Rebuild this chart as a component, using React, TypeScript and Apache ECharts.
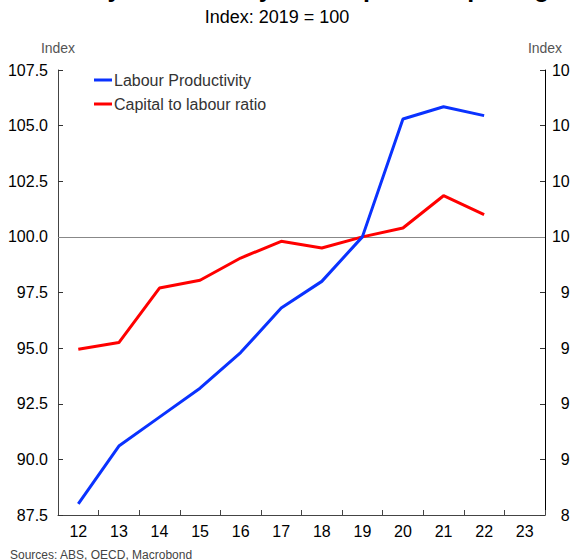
import React, { useEffect, useRef } from "react";
import * as echarts from "echarts";

const years = ["12", "13", "14", "15", "16", "17", "18", "19", "20", "21", "22", "23"];
const labourProductivity = [88.0, 90.6, 91.9, 93.2, 94.8, 96.8, 98.0, 100.0, 105.3, 105.85, 105.45, null];
const capitalToLabour = [94.95, 95.25, 97.7, 98.05, 99.05, 99.8, 99.5, 100.0, 100.4, 101.85, 101.0, null];
const yMin = 87.5;
const yMax = 107.5;
const yStep = 2.5;

export default function App() {
  const ref = useRef<HTMLDivElement>(null);
  useEffect(() => {
    if (!ref.current) return;
    const chart = echarts.init(ref.current, undefined, { renderer: "svg" });
    const font = "Arial, 'Liberation Sans', sans-serif";
    const yAxisBase = {
      type: "value",
      min: yMin,
      max: yMax,
      interval: yStep,
      splitLine: { show: false },
      axisTick: { show: true, inside: true, length: 5, lineStyle: { color: "#333" } },
      name: "Index",
      nameLocation: "end",
      nameGap: 22,
      nameTextStyle: { color: "#555", fontSize: 14, fontFamily: font, align: "center", verticalAlign: "middle" },
    };
    chart.setOption({
      animation: false,
      textStyle: { fontFamily: font },
      graphic: [
        {
          type: "text",
          x: 279,
          y: 0,
          style: {
            text: "Economy Productivity and Capital Deepening",
            font: "bold 25px Arial, 'Liberation Sans', sans-serif",
            fill: "#000",
            textAlign: "center",
            textVerticalAlign: "bottom",
          },
        },
        {
          type: "text",
          x: 277,
          y: 17,
          style: {
            text: "Index: 2019 = 100",
            font: "18px Arial, 'Liberation Sans', sans-serif",
            fill: "#000",
            textAlign: "center",
            textVerticalAlign: "middle",
          },
        },
        {
          type: "text",
          x: 10,
          y: 555,
          style: {
            text: "Sources: ABS, OECD, Macrobond",
            font: "12px Arial, 'Liberation Sans', sans-serif",
            fill: "#444",
            textAlign: "left",
            textVerticalAlign: "middle",
          },
        },
      ],
      legend: {
        orient: "vertical",
        left: 89,
        top: 67,
        itemGap: 8,
        itemWidth: 18,
        itemHeight: 3,
        icon: "rect",
        textStyle: { fontSize: 16, color: "#333", fontFamily: font, padding: [0, 0, 0, -3] },
        data: ["Labour Productivity", "Capital to labour ratio"],
      },
      grid: { left: 58, right: 25, top: 70, bottom: 45, containLabel: false, outerBoundsMode: "none" },
      xAxis: {
        type: "category",
        data: years,
        boundaryGap: true,
        axisLine: { lineStyle: { color: "#444", width: 1 } },
        axisTick: { show: true, inside: true, length: 5, lineStyle: { color: "#444" } },
        axisLabel: { color: "#000", fontSize: 16, margin: 8, fontFamily: font },
      },
      yAxis: [
        {
          ...yAxisBase,
          position: "left",
          axisLine: { show: true, lineStyle: { color: "#444" } },
          axisLabel: { color: "#000", fontSize: 16, margin: 10, fontFamily: font, formatter: (v: number) => v.toFixed(1) },
        },
        {
          ...yAxisBase,
          position: "right",
          axisLine: { show: true, lineStyle: { color: "#000" } },
          axisLabel: { color: "#000", fontSize: 16, margin: 47, align: "right", fontFamily: font, formatter: (v: number) => v.toFixed(1) },
        },
      ],
      series: [
        {
          name: "Labour Productivity",
          type: "line",
          data: labourProductivity,
          showSymbol: false,
          lineStyle: { color: "#0a32ff", width: 3 },
          itemStyle: { color: "#0a32ff" },
          z: 3,
          markLine: {
            silent: true,
            symbol: "none",
            label: { show: false },
            lineStyle: { color: "#888", width: 1, type: "solid" },
            data: [{ yAxis: 100 }],
            z: 1,
          },
        },
        {
          name: "Capital to labour ratio",
          type: "line",
          data: capitalToLabour,
          showSymbol: false,
          lineStyle: { color: "#ff0000", width: 3 },
          itemStyle: { color: "#ff0000" },
          z: 2,
        },
      ],
    });
    return () => chart.dispose();
  }, []);
  return <div ref={ref} style={{ width: 570, height: 560, position: "absolute", left: 0, top: 0 }} />;
}
